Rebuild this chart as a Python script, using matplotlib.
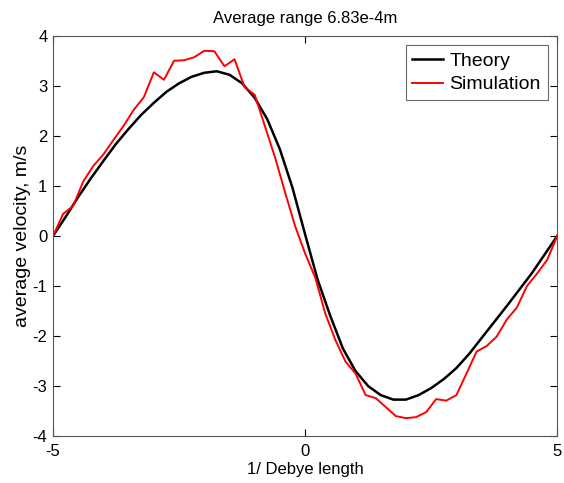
import matplotlib
matplotlib.use("Agg")
import matplotlib.pyplot as plt

plt.rcParams["font.family"] = ["Liberation Sans", "DejaVu Sans"]
plt.rcParams["axes.unicode_minus"] = False

# Theory curve
x_theory = [-5.0, -4.75, -4.5, -4.25, -4.0, -3.75, -3.5, -3.25, -3.0, -2.75,
            -2.5, -2.25, -2.0, -1.75, -1.5, -1.25, -1.0, -0.75, -0.5, -0.25,
            0.0, 0.25, 0.5, 0.75, 1.0, 1.25, 1.5, 1.75, 2.0, 2.25,
            2.5, 2.75, 3.0, 3.25, 3.5, 3.75, 4.0, 4.25, 4.5, 4.75, 5.0]
v_theory = [0.0, 0.38, 0.78, 1.15, 1.50, 1.84, 2.14, 2.42, 2.66, 2.88,
            3.05, 3.18, 3.26, 3.29, 3.22, 3.05, 2.76, 2.33, 1.73, 0.96,
            0.03, -0.88, -1.6, -2.25, -2.7, -3.0, -3.18, -3.27, -3.27, -3.18,
            -3.04, -2.86, -2.64, -2.36, -2.04, -1.72, -1.4, -1.07, -0.74, -0.37, 0.0]

# Simulation samples
x_sim = [-5.0, -4.8, -4.6, -4.4, -4.2, -4.0, -3.8, -3.6, -3.4, -3.2,
         -3.0, -2.8, -2.6, -2.4, -2.2, -2.0, -1.8, -1.6, -1.4, -1.2,
         -1.0, -0.8, -0.6, -0.4, -0.2, 0.0, 0.2, 0.4, 0.6, 0.8,
         1.0, 1.2, 1.4, 1.6, 1.8, 2.0, 2.2, 2.4, 2.6, 2.8,
         3.0, 3.2, 3.4, 3.6, 3.8, 4.0, 4.2, 4.4, 4.6, 4.8, 5.0]
v_sim = [0.0, 0.44, 0.6, 1.09, 1.40, 1.63, 1.92, 2.2, 2.52, 2.77,
         3.27, 3.12, 3.5, 3.51, 3.57, 3.70, 3.69, 3.39, 3.53, 2.97,
         2.82, 2.2, 1.58, 0.88, 0.2, -0.35, -0.83, -1.55, -2.08, -2.51,
         -2.75, -3.18, -3.24, -3.42, -3.6, -3.64, -3.62, -3.52, -3.26, -3.29,
         -3.18, -2.75, -2.31, -2.2, -2.01, -1.67, -1.43, -1.0, -0.75, -0.48, 0.0]

xticks = [-5, 0, 5]
yticks = [-4, -3, -2, -1, 0, 1, 2, 3, 4]

fig = plt.figure(figsize=(5.64, 4.83), dpi=100)
ax = fig.add_axes([0.094, 0.097, 0.894, 0.829])

ax.plot(x_theory, v_theory, color="black", linewidth=1.8, label="Theory")
ax.plot(x_sim, v_sim, color="red", linewidth=1.4, label="Simulation")

ax.set_xlim(-5, 5)
ax.set_ylim(-4, 4)
ax.set_xticks(xticks)
ax.set_yticks(yticks)
ax.tick_params(direction="in", length=5, top=True, right=True,
               labelsize=12, colors="black")
ax.tick_params(axis="x", pad=6)
ax.tick_params(axis="y", pad=4)
for s in ax.spines.values():
    s.set_color("#555555")
    s.set_linewidth(0.8)

ax.set_title("Average range 6.83e-4m", fontsize=12, pad=9)
ax.set_xlabel("1/ Debye length", fontsize=12, labelpad=2)
ax.set_ylabel("average velocity, m/s", fontsize=14, labelpad=1)

leg = ax.legend(loc="upper right", fontsize=14, fancybox=False,
                edgecolor="#444444", handlelength=1.6, borderpad=0.35,
                labelspacing=0.3, handletextpad=0.3, borderaxespad=0.5)
leg.get_frame().set_linewidth(0.8)

fig.savefig("out.png", dpi=100)
